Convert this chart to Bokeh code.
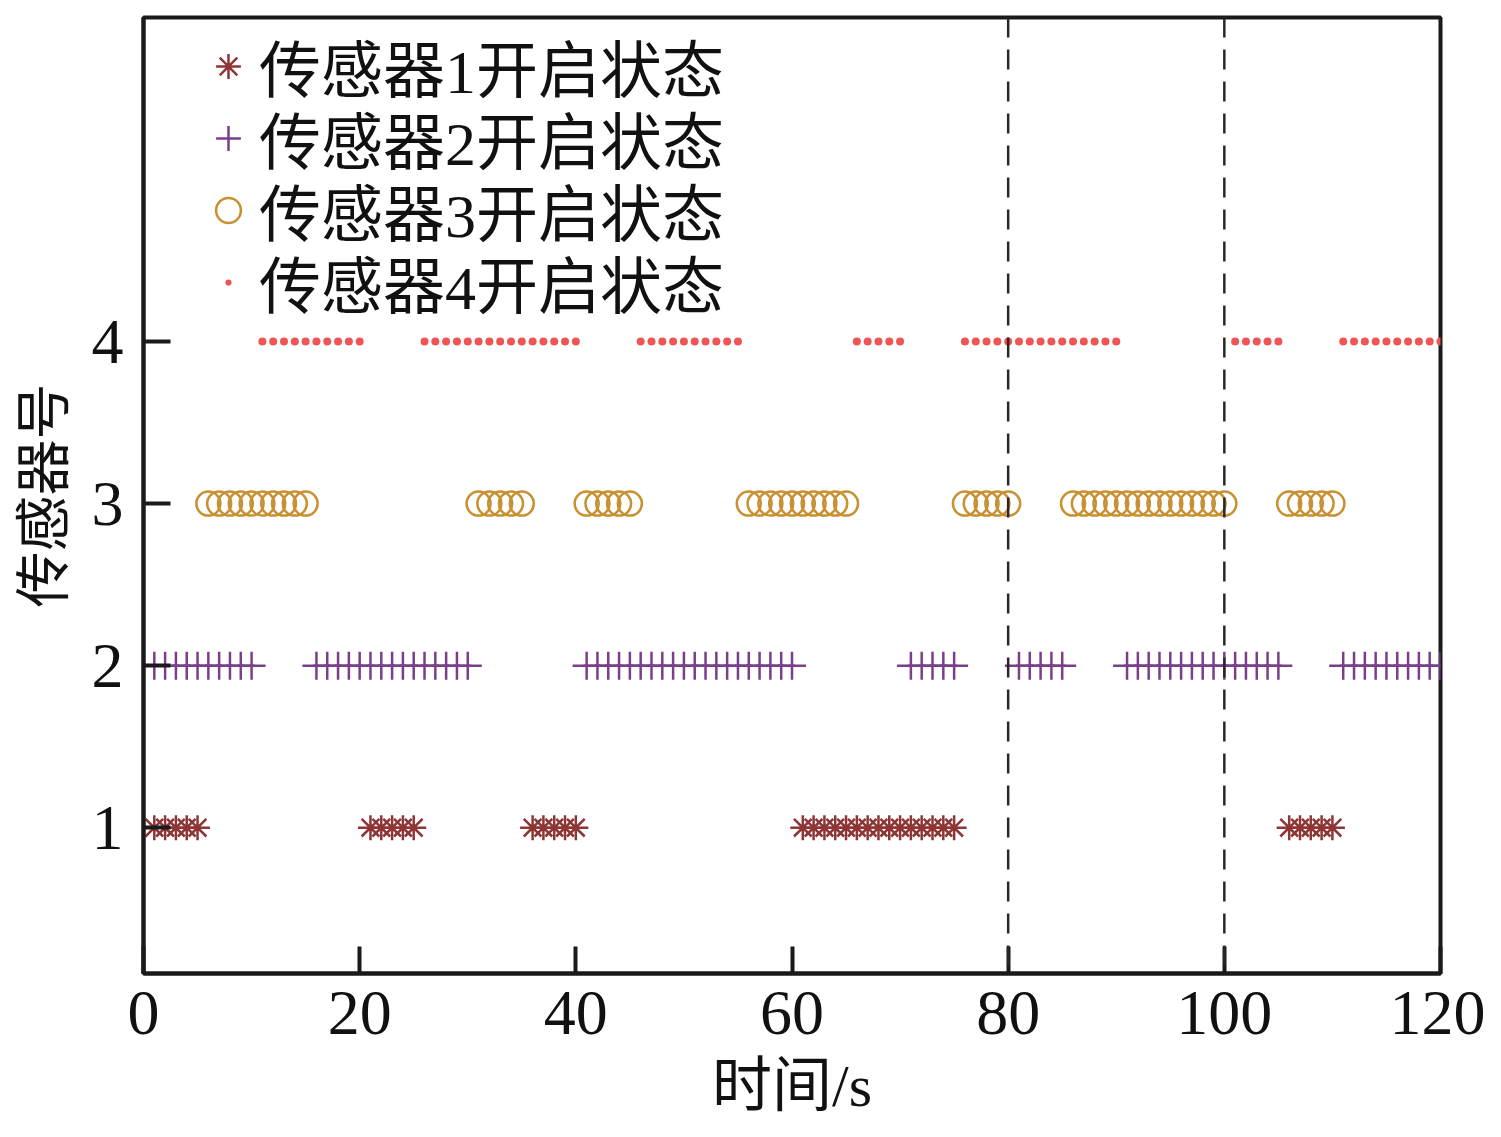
from bokeh.plotting import figure
from bokeh.models import Span, Legend, LegendItem, FixedTicker, Range1d
from bokeh.embed import file_html
from bokeh.resources import INLINE

FONT = "'Liberation Serif', 'Noto Sans CJK SC'"

x_ticks = [0, 20, 40, 60, 80, 100, 120]
y_ticks = [1, 2, 3, 4]
series_labels = ["传感器1开启状态", "传感器2开启状态", "传感器3开启状态", "传感器4开启状态"]
sensor_ids = [1, 2, 3, 4]

# seconds at which each sensor is on
s1_t = [1, 2, 3, 4, 5,
        21, 22, 23, 24, 25,
        36, 37, 38, 39, 40,
        61, 62, 63, 64, 65, 66, 67, 68, 69, 70, 71, 72, 73, 74, 75,
        106, 107, 108, 109, 110]
s2_t = [1, 2, 3, 4, 5, 6, 7, 8, 9, 10,
        16, 17, 18, 19, 20, 21, 22, 23, 24, 25, 26, 27, 28, 29, 30,
        41, 42, 43, 44, 45, 46, 47, 48, 49, 50, 51, 52, 53, 54, 55, 56, 57, 58, 59, 60,
        71, 72, 73, 74, 75,
        81, 82, 83, 84, 85,
        91, 92, 93, 94, 95, 96, 97, 98, 99, 100, 101, 102, 103, 104, 105,
        111, 112, 113, 114, 115, 116, 117, 118, 119, 120]
s3_t = [6, 7, 8, 9, 10, 11, 12, 13, 14, 15,
        31, 32, 33, 34, 35,
        41, 42, 43, 44, 45,
        56, 57, 58, 59, 60, 61, 62, 63, 64, 65,
        76, 77, 78, 79, 80,
        86, 87, 88, 89, 90, 91, 92, 93, 94, 95, 96, 97, 98, 99, 100,
        106, 107, 108, 109, 110]
s4_t = [11, 12, 13, 14, 15, 16, 17, 18, 19, 20,
        26, 27, 28, 29, 30, 31, 32, 33, 34, 35, 36, 37, 38, 39, 40,
        46, 47, 48, 49, 50, 51, 52, 53, 54, 55,
        66, 67, 68, 69, 70,
        76, 77, 78, 79, 80, 81, 82, 83, 84, 85, 86, 87, 88, 89, 90,
        101, 102, 103, 104, 105,
        111, 112, 113, 114, 115, 116, 117, 118, 119, 120]
event_times = [80, 100]

p = figure(width=1485, height=1121,
           x_range=Range1d(0, 120), y_range=Range1d(0.1, 6),
           output_backend="svg", toolbar_location=None,
           min_border_left=143, min_border_right=45,
           min_border_top=17, min_border_bottom=146)

p.grid.visible = False
p.outline_line_color = "#1a1a1a"
p.outline_line_width = 4

r1 = p.scatter(s1_t, [sensor_ids[0]] * len(s1_t), marker="asterisk", size=25,
               line_color="#8E3535", line_width=2.5)
r2 = p.scatter(s2_t, [sensor_ids[1]] * len(s2_t), marker="cross", size=28,
               line_color="#7B3F8A", line_width=2.5)
r3 = p.scatter(s3_t, [sensor_ids[2]] * len(s3_t), marker="circle", size=24,
               fill_color=None, line_color="#C89030", line_width=2.5)
r4 = p.scatter(s4_t, [sensor_ids[3]] * len(s4_t), marker="dot", size=32,
               fill_color="#EE5555", line_color="#EE5555")

for t in event_times:
    p.add_layout(Span(location=t, dimension="height", line_color="#2e2626",
                      line_width=2.5, line_dash="20 12"))

# one single-item legend per row, stacked with a 72px pitch
row_pitch = 72
bottom_row_y = 646
for i, r in enumerate([r1, r2, r3, r4]):
    lg = Legend(items=[LegendItem(label=series_labels[i], renderers=[r])],
                location=(54, bottom_row_y + (3 - i) * row_pitch),
                border_line_color=None, background_fill_alpha=0,
                padding=0, spacing=0,
                label_height=90, glyph_height=90, glyph_width=62,
                label_standoff=0, label_text_font_size="62px",
                label_text_font=FONT, label_text_color="#111111")
    p.add_layout(lg)

for ax in (p.xaxis, p.yaxis):
    ax.major_label_text_font = FONT
    ax.major_label_text_font_size = "64px"
    ax.major_label_text_color = "#111111"
    ax.major_tick_in = 27
    ax.major_tick_out = 0
    ax.major_tick_line_width = 4
    ax.major_tick_line_color = "#1a1a1a"
    ax.minor_tick_line_color = None
    ax.axis_line_width = 4
    ax.axis_line_color = "#1a1a1a"
    ax.axis_label_text_font = FONT
    ax.axis_label_text_font_style = "normal"
    ax.axis_label_text_color = "#111111"

p.xaxis.axis_label_text_font_size = "60px"
p.yaxis.axis_label_text_font_size = "56px"
p.xaxis.ticker = FixedTicker(ticks=x_ticks)
p.yaxis.ticker = FixedTicker(ticks=y_ticks)
p.xaxis.axis_label = "时间/s"
p.yaxis.axis_label = "传感器号"
p.xaxis.major_label_standoff = 18
p.yaxis.major_label_standoff = 20
p.xaxis.axis_label_standoff = 16
p.yaxis.axis_label_standoff = 14

open("out.html", "w").write(file_html(p, INLINE))
